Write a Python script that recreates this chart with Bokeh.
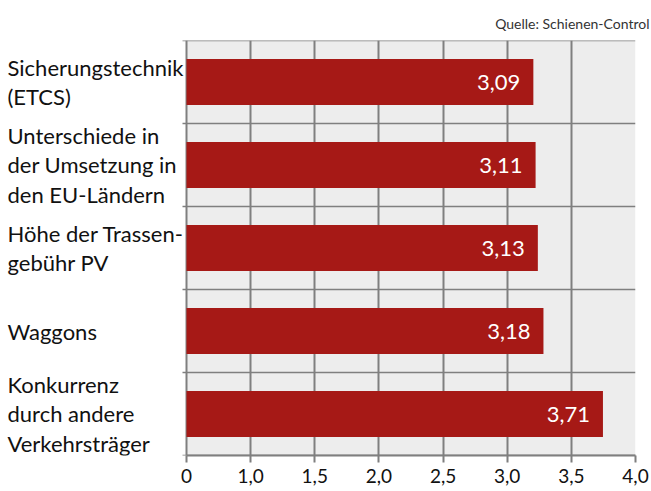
from bokeh.plotting import figure
from bokeh.models import (Range1d, FixedTicker, CustomJSTickFormatter, Title,
                          ColumnDataSource, BoxAnnotation)
from bokeh.core.properties import value
from bokeh.embed import file_html
from bokeh.resources import INLINE

categories = ["Sicherungstechnik\n(ETCS)",
              "Unterschiede in\nder Umsetzung in\nden EU-Ländern",
              "Höhe der Trassen-\ngebühr PV",
              "Waggons",
              "Konkurrenz\ndurch andere\nVerkehrsträger"]
values = [3.09, 3.11, 3.13, 3.18, 3.71]
tick_labels = ["0", "1,0", "1,5", "2,0", "2,5", "3,0", "3,5", "4,0"]
source_text = "Quelle: Schienen-Control"

FONT = "Lato"
GRID = "#7f7f7f"
n = len(categories)
ypos = [n - i - 0.5 for i in range(n)]
val_labels = [f"{v:.2f}".replace(".", ",") for v in values]
xmax = 4.0
xticks = [i * xmax / (len(tick_labels) - 1) for i in range(len(tick_labels))]

W, H = 651, 491
LEFT_PX, RIGHT_PX = 186, 635          # plot area in canvas pixels
px_per_unit = (RIGHT_PX - LEFT_PX) / xmax
xstart = -LEFT_PX / px_per_unit

p = figure(width=W, height=H, output_backend="svg", toolbar_location=None,
           x_range=Range1d(xstart, xmax), y_range=Range1d(0, n),
           y_axis_location=None,
           min_border_left=0, min_border_right=W - RIGHT_PX, min_border_top=40,
           min_border_bottom=36)
p.background_fill_color = "white"
p.border_fill_color = "white"
p.outline_line_color = None

p.add_layout(BoxAnnotation(left=0, right=xmax, bottom=0, top=n, fill_color="#ededed",
                           fill_alpha=1, line_color=None, level="image"))

t = Title(text=source_text, align="right", text_font=FONT, text_font_size="14px",
          text_font_style="normal", text_color="#333333", offset=-14, standoff=17)
p.add_layout(t, "above")

# row separators (with short tick stubs to the left of the plot area)
bounds = list(range(n + 1))
sep = ColumnDataSource(dict(y=bounds, x0=[-4 / px_per_unit] * len(bounds),
                            x1=[xmax] * len(bounds)))
p.segment(x0="x0", x1="x1", y0="y", y1="y", source=sep, line_color=GRID,
          line_width=1.5, level="underlay")

src = ColumnDataSource(dict(y=ypos, v=values, lab=val_labels, cat=categories,
                            zero=[0] * n))
p.hbar(y="y", left=0, right="v", height=0.555, source=src, color="#a61916", line_color=None)
p.text(x="v", y="y", text="lab", source=src, x_offset=-13, text_align="right",
       text_baseline="middle", text_color="white", text_font=value(FONT),
       text_font_size="22px")
p.text(x="zero", y="y", text="cat", source=src, x_offset=-(LEFT_PX - 7), text_align="left",
       text_baseline="middle", text_color="#111111", text_font=value(FONT),
       text_font_size="22px", text_line_height=1.1)

# x axis
p.xaxis.ticker = FixedTicker(ticks=xticks)
p.xaxis.bounds = (0, xmax)
p.xaxis.formatter = CustomJSTickFormatter(args=dict(labels=tick_labels),
                                          code="return labels[index];")
p.xaxis.axis_line_color = GRID
p.xaxis.axis_line_width = 2
p.xaxis.major_tick_line_color = GRID
p.xaxis.major_tick_line_width = 2
p.xaxis.major_tick_out = 7
p.xaxis.major_tick_in = 0
p.xaxis.minor_tick_line_color = None
p.xaxis.major_label_text_font = FONT
p.xaxis.major_label_text_font_size = "19px"
p.xaxis.major_label_text_color = "#111111"
p.xaxis.major_label_standoff = 6

p.xgrid.ticker = FixedTicker(ticks=xticks)
p.xgrid.grid_line_color = GRID
p.xgrid.grid_line_width = 2
p.ygrid.visible = False

open("out.html", "w").write(file_html(p, INLINE))
